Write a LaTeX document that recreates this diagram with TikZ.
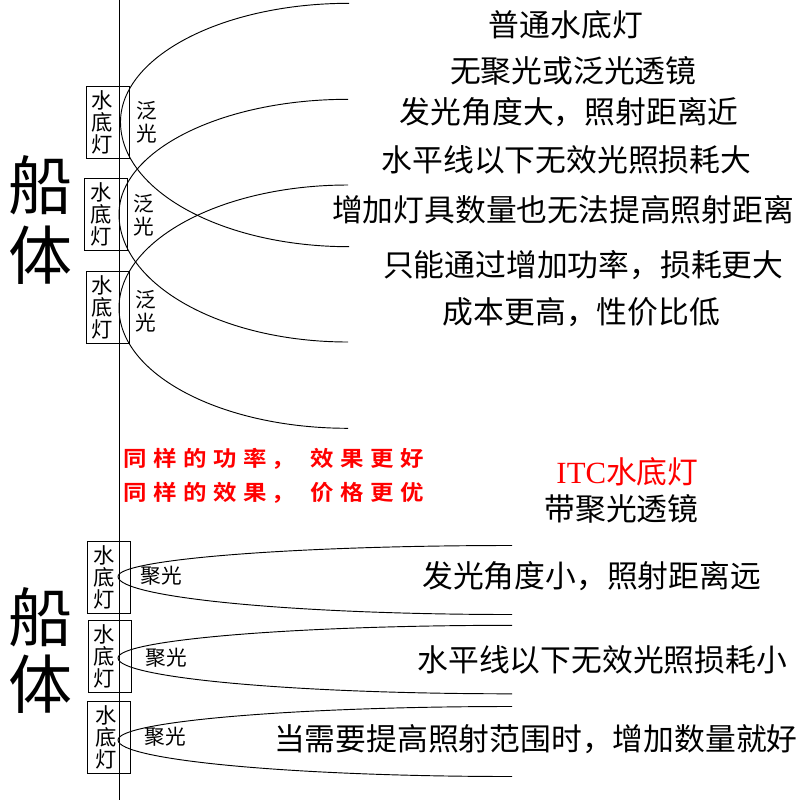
\documentclass[tikz,border=0pt]{standalone}
\usepackage{fontspec}
\setmainfont{Noto Sans CJK SC}
\newfontfamily\latinserif{Liberation Serif}
\newfontfamily\redfont[FakeStretch=1.1]{Noto Sans CJK SC Bold}
\newcommand\rcell[1]{\makebox[22.5pt][c]{#1}}
\newcommand\rcomma{\makebox[27.75pt][l]{\hspace{1pt}，}}
\definecolor{itcred}{RGB}{255,0,0}
\tikzset{
  maintext/.style={inner sep=0pt, font=\fontsize{23.1pt}{26pt}\selectfont},
  hulltext/.style={inner sep=0pt, font=\fontsize{48pt}{52pt}\selectfont},
  lampbox/.style={draw, line width=0.75pt, minimum width=32.3pt, minimum height=54pt, inner sep=0pt},
  lamptext/.style={inner sep=0pt, align=center, font=\fontsize{16pt}{16.5pt}\selectfont},
  beamtext/.style={inner sep=0pt, align=center, font=\fontsize{15.5pt}{17pt}\selectfont},
  redline/.style={inner sep=0pt, anchor=west, text=itcred, font=\redfont\fontsize{16pt}{18pt}\selectfont},
  beam/.style={line width=0.7pt},
}
\begin{document}
\begin{tikzpicture}[x=0.75pt,y=-0.75pt]
\useasboundingbox[fill=white] (0,0) rectangle (800,800);

% hull line
\draw[line width=0.75pt] (119,0) -- (119,800);

% beams (upper: wide, lower: narrow)
\foreach \xv/\yt/\yv/\yb/\xr in {120.5/3.3/122/246.7/349, 119/99.3/214/342/348, 119/185/308/428.3/348,
  118/545.5/576.5/614.5/512, 118/625.3/658/693.8/512, 118/706.5/740/776.5/512}{
  \draw[beam] (\xr,\yt) .. controls ({\xr-0.5523*(\xr-\xv)},\yt) and (\xv,{\yv-0.5523*(\yv-\yt)}) .. (\xv,\yv)
     .. controls (\xv,{\yv+0.5523*(\yb-\yv)}) and ({\xr-0.5523*(\xr-\xv)},\yb) .. (\xr,\yb);
}

% hull labels
\node[hulltext] (h1a) at (40,185) {船};
\node[hulltext] (h1b) at (40,255) {体};
\node[hulltext] (h2a) at (40,617.5) {船};
\node[hulltext] (h2b) at (40,684) {体};

% upper lamps
\node[lampbox] (t1) at (107.9,122.5) {};
\node[lampbox] (t2) at (106,214.2) {};
\node[lampbox] (t3) at (108.3,307.5) {};
\node[lamptext] (t1t) at (101.7,122.5) {水\\底\\灯};
\node[lamptext] (t2t) at (101.2,214.2) {水\\底\\灯};
\node[lamptext] (t3t) at (102,307.5) {水\\底\\灯};
\node[beamtext] (f1) at (146.7,122) {泛\\光};
\node[beamtext] (f2) at (143.5,215) {泛\\光};
\node[beamtext] (f3) at (145.8,311) {泛\\光};

% lower lamps
\node[lampbox] (l1) at (109,577.2) {};
\node[lampbox] (l2) at (109.8,656.5) {};
\node[lampbox] (l3) at (108.8,737.5) {};
\node[lamptext] (l1t) at (104.5,577.2) {水\\底\\灯};
\node[lamptext] (l2t) at (104.5,656.5) {水\\底\\灯};
\node[lamptext] (l3t) at (106,737.5) {水\\底\\灯};
\node[beamtext] (j1) at (161.5,576) {聚光};
\node[beamtext] (j2) at (166.5,658) {聚光};
\node[beamtext] (j3) at (165.5,737) {聚光};

% upper texts
\node[maintext] (u1) at (565.9,25) {普通水底灯};
\node[maintext] (u2) at (573.3,71) {无聚光或泛光透镜};
\node[maintext] (u3) at (569.2,112) {发光角度大，照射距离近};
\node[maintext] (u4) at (566.5,160) {水平线以下无效光照损耗大};
\node[maintext] (u5) at (563,210) {增加灯具数量也无法提高照射距离};
\node[maintext] (u6) at (583.3,265) {只能通过增加功率，损耗更大};
\node[maintext] (u7) at (581.5,312) {成本更高，性价比低};

% red slogans
\node[redline] (r1) at (119.5,459) {\rcell{同}\rcell{样}\rcell{的}\rcell{功}\rcell{率}\rcomma\rcell{效}\rcell{果}\rcell{更}\rcell{好}};
\node[redline] (r2) at (119.5,493) {\rcell{同}\rcell{样}\rcell{的}\rcell{效}\rcell{果}\rcomma\rcell{价}\rcell{格}\rcell{更}\rcell{优}};

% lower texts
\node[maintext, text=itcred] (itc) at (627.5,471.5) {{\latinserif ITC}水底灯};
\node[maintext] (d1) at (621.5,509) {带聚光透镜};
\node[maintext] (d2) at (591.7,576) {发光角度小，照射距离远};
\node[maintext] (d3) at (602.3,660) {水平线以下无效光照损耗小};
\node[maintext] (d4) at (535.8,739) {当需要提高照射范围时，增加数量就好};
\end{tikzpicture}
\end{document}
